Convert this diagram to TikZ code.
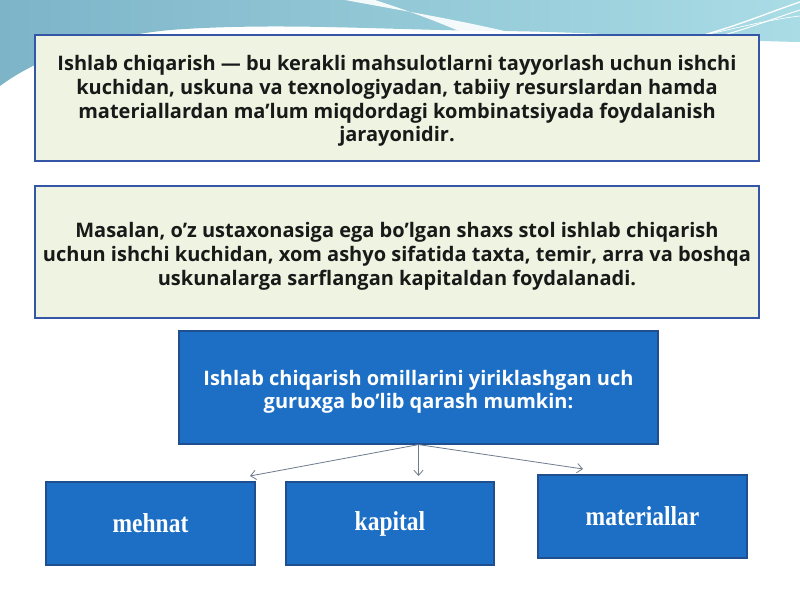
\documentclass[tikz,border=0pt]{standalone}
\usepackage{fontspec}
\setmainfont{Open Sans}
\newfontfamily\labelfont[FakeStretch=0.86]{Liberation Serif}
\usetikzlibrary{arrows.meta}
\definecolor{boxfill}{HTML}{EEF4E1}
\definecolor{boxedge}{HTML}{3556A6}
\definecolor{bluefill}{HTML}{1C6FC4}
\definecolor{blueedge}{HTML}{1F4F8F}
\definecolor{bandL}{HTML}{7DB4C8}
\definecolor{bandR}{HTML}{A9DCE5}
\definecolor{arrowgray}{HTML}{6E7C8C}
\tikzset{
  frame/.style={draw=boxedge, line width=1.2pt, fill=boxfill, inner sep=0pt},
  frametext/.style={inner sep=0pt, align=center,
    font=\bfseries\fontsize{15}{17.8}\selectfont, text=black!90},
  bluebox/.style={draw=blueedge, line width=0.9pt, fill=bluefill, inner sep=0pt,
    align=center, text=white},
  leafbox/.style={bluebox, minimum width=156.75pt, minimum height=62.25pt,
    font=\labelfont\bfseries\fontsize{20.5}{24}\selectfont},
  conn/.style={draw=arrowgray, line width=0.6pt, -{Straight Barb[length=4pt,width=7pt]}}
}
\begin{document}
\begin{tikzpicture}[x=0.75pt,y=-0.75pt]
\useasboundingbox (0,0) rectangle (800,600);
\fill[white] (0,0) rectangle (800,600);
% background band
\shade[left color=bandL, right color=bandR]
  (0,0) -- (800,0) -- (800,42)
  .. controls (700,40) and (600,32) .. (500,31)
  .. controls (380,30) and (280,22) .. (170,30)
  .. controls (90,38) and (35,60) .. (0,86) -- cycle;
\fill[white, opacity=0.9]
  (345,0) .. controls (410,12) and (470,22) .. (525,36)
  -- (470,36) .. controls (440,22) and (400,8) .. (375,0) -- cycle;
\fill[white, opacity=0.5]
  (0,96) .. controls (20,70) and (60,50) .. (110,38)
  .. controls (60,55) and (25,75) .. (0,110) -- cycle;
\draw[white, line width=1pt] (700,36) .. controls (740,25) and (770,12) .. (800,2);
\draw[white, line width=0.7pt] (720,36) .. controls (750,28) and (775,18) .. (800,10);
\draw[white, line width=0.5pt] (690,38) .. controls (730,30) and (765,20) .. (800,16);

\node[frame, minimum width=543pt, minimum height=94.5pt] (def) at (397,98) {};
\node[frametext] (deftext) at (397,101)
  {Ishlab chiqarish — bu kerakli mahsulotlarni tayyorlash uchun ishchi\\
   kuchidan, uskuna va texnologiyadan, tabiiy resurslardan hamda\\
   materiallardan ma’lum miqdordagi kombinatsiyada foydalanish\\
   jarayonidir.};
\node[frame, minimum width=543pt, minimum height=99pt] (ex) at (397,252) {};
\node[frametext, font=\bfseries\fontsize{15}{18}\selectfont] (extext) at (397,256)
  {Masalan, o’z ustaxonasiga ega bo’lgan shaxs stol ishlab chiqarish\\
   uchun ishchi kuchidan, xom ashyo sifatida taxta, temir, arra va boshqa\\
   uskunalarga sarflangan kapitaldan foydalanadi.};
\node[bluebox, minimum width=359.25pt, minimum height=84.75pt] (main) at (418.5,387.5) {};
\node[inner sep=0pt, align=center, text=white,
      font=\bfseries\fontsize{15}{17.3}\selectfont] (maintext) at (418.5,391.5)
  {Ishlab chiqarish omillarini yiriklashgan uch\\ guruxga bo’lib qarash mumkin:};
\node[leafbox] (m) at (150.5,523.5) {mehnat};
\node[leafbox, minimum width=156pt] (k) at (390,523.5) {kapital};
\node[leafbox] (mt) at (642.5,516.5) {materiallar};

\coordinate (e1) at (250,476);
\coordinate (e2) at (418.5,476);
\coordinate (e3) at (583,469);
\draw[conn] (main.south) -- (e1);
\draw[conn] (main.south) -- (e2);
\draw[conn] (main.south) -- (e3);
\end{tikzpicture}
\end{document}
